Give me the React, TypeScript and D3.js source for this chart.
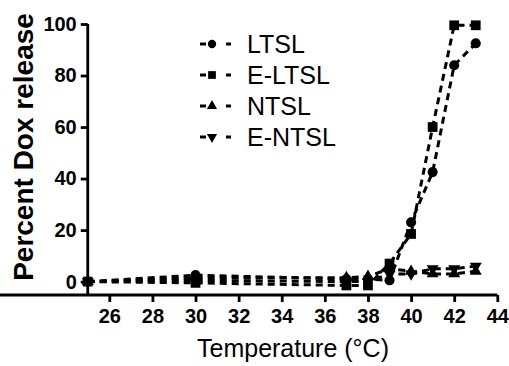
import React, { useEffect, useRef } from 'react';
import * as d3 from 'd3';

const temps = [25, 30, 37, 38, 39, 40, 41, 42, 43];
const ltsl = [0, 2.5, 1, 1, 0.5, 23, 42.5, 84, 92.5];
const eLtsl = [0, -0.5, -1.5, -1.5, 7, 18.5, 60, 99.5, 99.5];
const ntsl = [0, 1.5, 1.5, 2, 5, 4, 3, 3, 4];
const eNtsl = [0, 0.5, 0, 0, 3, 3, 5, 5, 6];
const seriesNames = ['LTSL', 'E-LTSL', 'NTSL', 'E-NTSL'];
const xTicks = [26, 28, 30, 32, 34, 36, 38, 40, 42, 44];
const yTicks = [0, 20, 40, 60, 80, 100];

const FONT = "'Liberation Sans', Arial, Helvetica, sans-serif";

const App = () => {
    const svgRef = useRef<SVGSVGElement>(null);

    useEffect(() => {
        const svg = d3.select(svgRef.current);
        svg.selectAll('*').remove();

        const x = d3.scaleLinear().domain([25, 44]).range([87.75, 497.3]);
        const y = d3.scaleLinear().domain([-5.2, 100]).range([295, 24]);

        const series = [ltsl, eLtsl, ntsl, eNtsl].map((vals, i) => ({
            name: seriesNames[i],
            points: vals.map((v, j) => [temps[j], v] as [number, number]),
        }));

        const symbols = [
            d3.symbol().type(d3.symbolCircle).size(80),
            d3.symbol().type(d3.symbolSquare).size(95),
            d3.symbol().type(d3.symbolTriangle).size(62),
            d3.symbol().type(d3.symbolTriangle).size(62),
        ];

        // axes
        const xAxis = svg.append('g')
            .attr('transform', 'translate(0,295)')
            .call(d3.axisBottom(x).tickValues(xTicks).tickSize(7).tickSizeOuter(0).tickPadding(7));
        const yAxis = svg.append('g')
            .attr('transform', 'translate(87.75,0)')
            .call(d3.axisLeft(y).tickValues(yTicks).tickSize(7).tickSizeOuter(0).tickPadding(4));

        [xAxis, yAxis].forEach(ax => {
            ax.selectAll('path, line').attr('stroke', '#000').attr('stroke-width', 2.8);
            ax.selectAll('text')
                .attr('fill', '#000')
                .attr('font-family', FONT)
                .attr('font-weight', 'bold')
                .attr('font-size', 20);
        });
        yAxis.select('path.domain').attr('d', `M0,${y(100)}V295`);
        xAxis.select('path.domain').attr('d', `M-1.4,0H${x(44)}`);

        // lines
        const line = d3.line<[number, number]>().x(d => x(d[0])).y(d => y(d[1]));
        series.forEach(s => {
            svg.append('path')
                .attr('d', line(s.points))
                .attr('fill', 'none')
                .attr('stroke', '#000')
                .attr('stroke-width', 3)
                .attr('stroke-dasharray', '7,5');
        });

        // markers
        series.forEach((s, i) => {
            svg.append('g').selectAll('path')
                .data(s.points)
                .enter()
                .append('path')
                .attr('d', symbols[i]())
                .attr('transform', d => `translate(${x(d[0])},${y(d[1])})${i === 3 ? ' rotate(180)' : ''}`)
                .attr('fill', '#000');
        });

        // legend
        const legendRows = [44, 75, 106, 137];
        const legendSymbols = [
            d3.symbol().type(d3.symbolCircle).size(55),
            d3.symbol().type(d3.symbolSquare).size(60),
            d3.symbol().type(d3.symbolTriangle).size(45),
            d3.symbol().type(d3.symbolTriangle).size(45),
        ];
        seriesNames.forEach((name, i) => {
            const g = svg.append('g').attr('transform', `translate(0,${legendRows[i]})`);
            g.append('line').attr('x1', 200).attr('x2', 206).attr('y1', 0).attr('y2', 0)
                .attr('stroke', '#000').attr('stroke-width', 3);
            g.append('line').attr('x1', 226).attr('x2', 231).attr('y1', 0).attr('y2', 0)
                .attr('stroke', '#000').attr('stroke-width', 3);
            g.append('path')
                .attr('d', legendSymbols[i]())
                .attr('transform', `translate(212,0)${i === 3 ? ' rotate(180)' : ''}`)
                .attr('fill', '#000');
            g.append('text')
                .attr('x', 247)
                .attr('y', 0)
                .attr('dy', '0.35em')
                .attr('font-family', FONT)
                .attr('font-size', 25)
                .attr('fill', '#000')
                .text(name);
        });

        // axis titles
        svg.append('text')
            .attr('x', 293)
            .attr('y', 357)
            .attr('text-anchor', 'middle')
            .attr('font-family', FONT)
            .attr('font-size', 25)
            .attr('fill', '#000')
            .text('Temperature (°C)');

        svg.append('text')
            .attr('transform', 'translate(33,147) rotate(-90)')
            .attr('text-anchor', 'middle')
            .attr('font-family', FONT)
            .attr('font-weight', 'bold')
            .attr('font-size', 28)
            .attr('fill', '#000')
            .text('Percent Dox release');
    }, []);

    return (
        <svg
            ref={svgRef}
            width={509}
            height={366}
            style={{ position: 'absolute', left: 0, top: 0, background: '#fff' }}
        ></svg>
    );
};

export default App;
